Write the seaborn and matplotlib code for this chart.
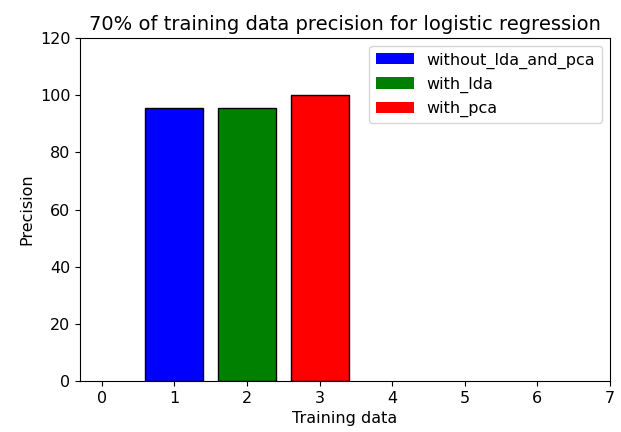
import seaborn as sns
import matplotlib.pyplot as plt
import pandas as pd

# values
positions = [1, 2, 3]
precision = [95.5, 95.5, 100.0]
methods = ['without_lda_and_pca', 'with_lda', 'with_pca']
colors = ['blue', 'green', 'red']

df = pd.DataFrame({'pos': positions, 'precision': precision, 'method': methods})

plt.rcParams['font.size'] = 11.5
plt.rcParams['axes.titlesize'] = 14

fig = plt.figure(figsize=(6.21, 4.32), dpi=100)
ax = fig.add_axes([0.129, 0.118, 0.853, 0.794])

sns.barplot(data=df, x='pos', y='precision', hue='method', palette=colors,
            native_scale=True, dodge=False, width=0.8, edgecolor='black',
            linewidth=1, saturation=1, ax=ax)

ax.set_xlim(-0.3, 7)
ax.set_ylim(0, 120)
ax.set_xticks(range(0, 8))
ax.set_xticklabels([str(i) for i in range(0, 8)])
ax.set_yticks(range(0, 121, 20))
ax.set_title('70% of training data precision for logistic regression')
ax.set_xlabel('Training data')
ax.set_ylabel('Precision')

# legend patches without the black edge, as in the reference
leg = ax.legend(loc='upper right', handlelength=2.4)
for h in leg.legend_handles:
    h.set_edgecolor('none')

plt.savefig('out.png', dpi=100)
